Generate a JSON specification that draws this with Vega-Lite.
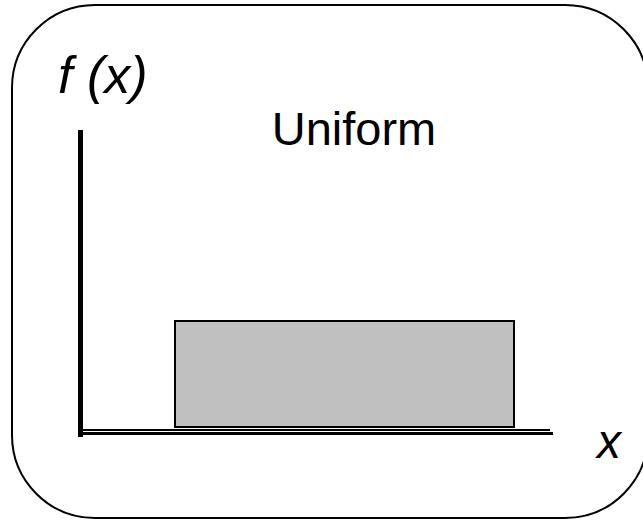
{
  "$schema": "https://vega.github.io/schema/vega-lite/v6.json",
  "width": 643,
  "height": 521,
  "autosize": "none",
  "padding": 0,
  "background": "white",
  "config": {"view": {"stroke": null}},
  "layer": [
    {
      "data": {"values": [{"x": -68, "x2": 568, "y": 428, "y2": -85}]},
      "mark": {"type": "rect", "cornerRadius": 83, "fill": null, "filled": false, "stroke": "black", "strokeWidth": 2, "clip": false},
      "encoding": {
        "x": {"field": "x", "type": "quantitative", "scale": {"domain": [-80, 563], "nice": false, "zero": false}, "axis": null},
        "x2": {"field": "x2"},
        "y": {"field": "y", "type": "quantitative", "scale": {"domain": [-88, 433], "nice": false, "zero": false}, "axis": null},
        "y2": {"field": "y2"}
      }
    },
    {
      "data": {"values": [{"x": 95, "x2": 434, "y": 112, "y2": 6}]},
      "mark": {"type": "rect", "fill": "#c0c0c0", "stroke": "black", "strokeWidth": 2},
      "encoding": {
        "x": {"field": "x", "type": "quantitative", "scale": {"domain": [-80, 563], "nice": false, "zero": false}, "axis": null},
        "x2": {"field": "x2"},
        "y": {"field": "y", "type": "quantitative", "scale": {"domain": [-88, 433], "nice": false, "zero": false}, "axis": null},
        "y2": {"field": "y2"}
      }
    },
    {
      "data": {"values": [{"x": 0.5, "y": -4, "y2": 303}]},
      "mark": {"type": "rule", "stroke": "black", "strokeWidth": 5},
      "encoding": {
        "x": {"field": "x", "type": "quantitative", "scale": {"domain": [-80, 563], "nice": false, "zero": false}, "axis": null},
        "y": {"field": "y", "type": "quantitative", "scale": {"domain": [-88, 433], "nice": false, "zero": false}, "axis": null},
        "y2": {"field": "y2"}
      }
    },
    {
      "data": {"values": [{"x": 0, "x2": 470, "y": 3, "w": 2}, {"x": 0, "x2": 473, "y": -0.5, "w": 3}]},
      "mark": {"type": "rule", "stroke": "black"},
      "encoding": {
        "x": {"field": "x", "type": "quantitative", "scale": {"domain": [-80, 563], "nice": false, "zero": false}, "axis": null},
        "x2": {"field": "x2"},
        "y": {"field": "y", "type": "quantitative", "scale": {"domain": [-88, 433], "nice": false, "zero": false}, "axis": null},
        "strokeWidth": {"field": "w", "type": "quantitative", "scale": null, "legend": null}
      }
    },
    {
      "data": {"values": [{"x": -22, "y": 340, "label": "f (x)"}]},
      "mark": {"type": "text", "font": "Liberation Sans", "fontStyle": "italic", "fontSize": 52, "align": "left", "baseline": "alphabetic", "color": "black"},
      "encoding": {
        "x": {"field": "x", "type": "quantitative", "scale": {"domain": [-80, 563], "nice": false, "zero": false}, "axis": null},
        "y": {"field": "y", "type": "quantitative", "scale": {"domain": [-88, 433], "nice": false, "zero": false}, "axis": null},
        "text": {"field": "label"}
      }
    },
    {
      "data": {"values": [{"x": 274, "y": 288, "label": "Uniform"}]},
      "mark": {"type": "text", "font": "Liberation Sans", "fontSize": 47, "align": "center", "baseline": "alphabetic", "color": "black"},
      "encoding": {
        "x": {"field": "x", "type": "quantitative", "scale": {"domain": [-80, 563], "nice": false, "zero": false}, "axis": null},
        "y": {"field": "y", "type": "quantitative", "scale": {"domain": [-88, 433], "nice": false, "zero": false}, "axis": null},
        "text": {"field": "label"}
      }
    },
    {
      "data": {"values": [{"x": 529, "y": -25, "label": "x"}]},
      "mark": {"type": "text", "font": "Liberation Sans", "fontStyle": "italic", "fontSize": 48, "align": "center", "baseline": "alphabetic", "color": "black"},
      "encoding": {
        "x": {"field": "x", "type": "quantitative", "scale": {"domain": [-80, 563], "nice": false, "zero": false}, "axis": null},
        "y": {"field": "y", "type": "quantitative", "scale": {"domain": [-88, 433], "nice": false, "zero": false}, "axis": null},
        "text": {"field": "label"}
      }
    }
  ]
}
